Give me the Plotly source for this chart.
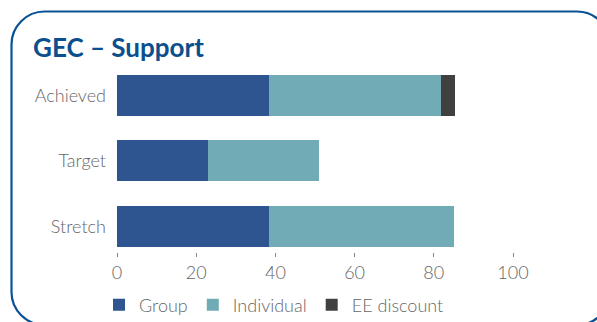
import plotly.graph_objects as go

# Chart data
categories = ["Achieved", "Target", "Stretch"]
group = [38.4, 23.0, 38.4]
individual = [43.4, 28.0, 46.6]
ee_discount = [3.5, 0.0, 0.0]
x_ticks = [0, 20, 40, 60, 80, 100]

W, H = 597, 322
L, R, T, B = 117, 25, 62, 70
PW, PH = W - L - R, H - T - B
X_MAX = 114.9

label_font = dict(family="Lato", size=18, color="#666666", weight=300)

fig = go.Figure()
series = [
    ("Group", group, "#2e5590"),
    ("Individual", individual, "#70abb6"),
    ("EE discount", ee_discount, "#404040"),
]
for name, vals, col in series:
    fig.add_trace(go.Bar(
        y=categories, x=vals, name=name, orientation="h",
        marker=dict(color=col, line=dict(width=0)),
        hoverinfo="x+name",
    ))


# Rounded frame around the panel, expressed in paper coordinates
def px(x):
    return (x - L) / PW


def py(y):
    return (H - B - y) / PH


x0, x1, y0, y1, r = 11.5, 610, 11.5, 325, 33
k = 0.45
path = (
    f"M{px(x0 + r)},{py(y0)} L{px(x1 - r)},{py(y0)} "
    f"C{px(x1 - r * k)},{py(y0)} {px(x1)},{py(y0 + r * k)} {px(x1)},{py(y0 + r)} "
    f"L{px(x1)},{py(y1 - r)} "
    f"C{px(x1)},{py(y1 - r * k)} {px(x1 - r * k)},{py(y1)} {px(x1 - r)},{py(y1)} "
    f"L{px(x0 + r)},{py(y1)} "
    f"C{px(x0 + r * k)},{py(y1)} {px(x0)},{py(y1 - r * k)} {px(x0)},{py(y1 - r)} "
    f"L{px(x0)},{py(y0 + r)} "
    f"C{px(x0)},{py(y0 + r * k)} {px(x0 + r * k)},{py(y0)} {px(x0 + r)},{py(y0)} Z"
)
fig.add_shape(type="path", path=path, xref="paper", yref="paper",
              line=dict(color="#0b5294", width=2.2), layer="above")

fig.update_layout(
    width=W, height=H,
    margin=dict(l=L, r=R, t=T, b=B, autoexpand=False),
    paper_bgcolor="white", plot_bgcolor="white",
    barmode="stack", bargap=0.374,
    title=dict(
        text="<b>GEC – Support</b>",
        font=dict(family="Lato", size=26, color="#0b4f8c"),
        x=33 / W, xanchor="left", xref="container",
        y=1 - 48 / H, yanchor="middle", yref="container",
    ),
    xaxis=dict(
        range=[0, X_MAX], tickvals=x_ticks, showgrid=False, zeroline=False,
        showline=False, ticks="outside", ticklen=4, tickcolor="#888888",
        tickwidth=1, tickfont=label_font, automargin=False,
    ),
    yaxis=dict(
        range=[2.39, -0.51], showgrid=False, zeroline=False, showline=False,
        ticks="", tickfont=label_font, ticklabelstandoff=10, automargin=False,
    ),
    legend=dict(
        orientation="h", x=99 / W, xanchor="left", xref="container",
        y=1 - 305 / H, yanchor="middle", yref="container",
        font=label_font, traceorder="normal", itemwidth=30,
        bgcolor="rgba(0,0,0,0)",
    ),
    showlegend=True,
)

fig.write_html("out.html")
